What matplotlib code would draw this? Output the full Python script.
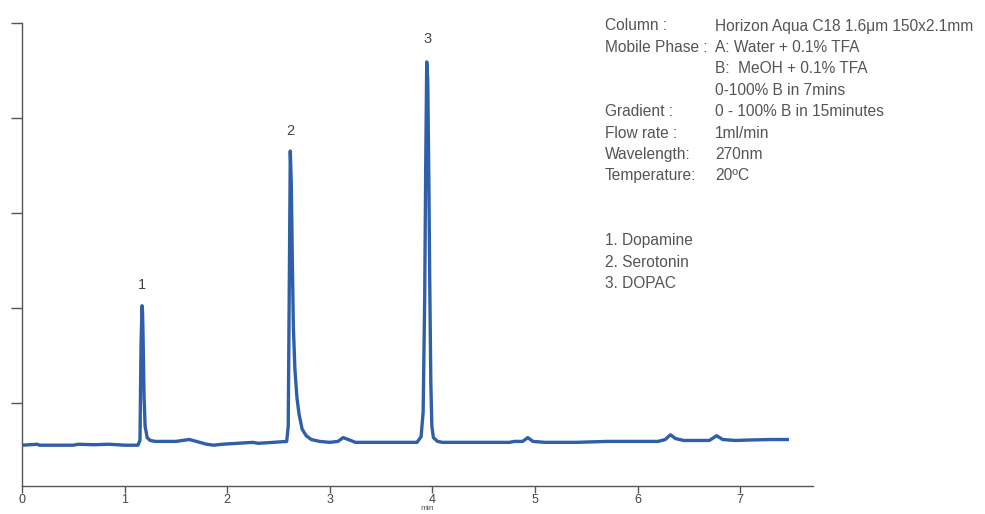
import matplotlib
matplotlib.use("Agg")
import matplotlib.pyplot as plt

# ---- data ----
time_min = [0.00, 0.15, 0.17, 0.50, 0.55, 0.70, 0.85, 1.00, 1.13, 1.15, 1.16, 1.17, 1.175,
            1.18, 1.19, 1.20, 1.22, 1.25, 1.30, 1.50, 1.63, 1.70, 1.80, 1.87, 1.95,
            2.10, 2.25, 2.30, 2.45, 2.58, 2.595, 2.605, 2.615, 2.625, 2.635, 2.645, 2.66,
            2.68, 2.70, 2.73, 2.77, 2.82, 2.90, 3.00, 3.08, 3.13, 3.18, 3.25, 3.50,
            3.85, 3.89, 3.91, 3.925, 3.935, 3.945, 3.955, 3.965, 3.975, 3.985, 3.995,
            4.01, 4.05, 4.10, 4.30, 4.75, 4.80, 4.88, 4.93, 4.98, 5.10, 5.40, 5.70,
            6.00, 6.20, 6.27, 6.32, 6.37, 6.45, 6.70, 6.77, 6.83, 6.95, 7.10, 7.30, 7.46]
signal = [-45, -44, -45, -45, -44, -44.5, -44, -45, -45, -40, 60, 102, 95,
          70, 5, -25, -37, -40, -41, -41, -39, -41, -44, -45, -44,
          -43, -42, -43, -42, -41, -25, 120, 265, 230, 150, 80, 35,
          5, -12, -28, -35, -39, -41, -42, -41, -37, -39, -42, -42,
          -42, -36, -10, 110, 250, 359, 340, 240, 120, 20, -25,
          -37, -41, -42, -42, -42, -41, -41, -37, -41, -42, -42, -41,
          -41, -41, -39, -34, -38, -40, -40, -35, -39, -40, -39.5, -39, -39]

peak_labels = ["1", "2", "3"]
peak_times = [1.17, 2.62, 3.955]
peak_label_heights = [116, 279, 376]

x_ticks = [0, 1, 2, 3, 4, 5, 6, 7]
y_ticks = [0, 100, 200, 300, 400]

cond_keys = ["Column :", "Mobile Phase :", "", "", "Gradient :", "Flow rate :",
             "Wavelength:", "Temperature:"]
cond_vals = ["Horizon Aqua C18 1.6\u03bcm 150x2.1mm", "A: Water + 0.1% TFA",
             "B:  MeOH + 0.1% TFA", "0-100% B in 7mins", "0 - 100% B in 15minutes",
             "1ml/min", "270nm", "20\u00baC"]
compounds = ["1. Dopamine", "2. Serotonin", "3. DOPAC"]

# ---- figure ----
plt.rcParams['font.family'] = ['Liberation Sans', 'DejaVu Sans']
fig = plt.figure(figsize=(9.85, 5.14), dpi=100)
W, H = 985, 514
ax = fig.add_axes([22 / W, (H - 486) / H, (813 - 22) / W, (486 - 23) / H])

line_color = "#2f5fa8"
ax.plot(time_min, signal, color=line_color, lw=2.4, solid_joinstyle="round")

ax.set_xlim(0, 7.71)
ax.set_ylim(-88, 400)
ax.set_xticks(x_ticks)
ax.set_xticklabels([str(t) for t in x_ticks])
ax.set_yticks(y_ticks)
ax.set_yticklabels([])

for s in ["top", "right"]:
    ax.spines[s].set_visible(False)
for s in ["left", "bottom"]:
    ax.spines[s].set_color("#555555")
    ax.spines[s].set_linewidth(1.0)
ax.tick_params(axis="x", direction="out", length=5, width=1, colors="#555555",
               labelsize=9, labelcolor="#444444", pad=1)
ax.tick_params(axis="y", direction="out", length=8, width=1, colors="#555555")

fig.text(427 / W, 1 - 512 / H, "min", ha="center", va="bottom",
         fontsize=6, color="#555555")

for lab, t, h in zip(peak_labels, peak_times, peak_label_heights):
    ax.text(t, h, lab, ha="center", va="bottom", fontsize=10.5, color="#444444")

txt_color = "#555555"
fs = 11.2
y0 = 26
dy = 21.4
for i, (k, v) in enumerate(zip(cond_keys, cond_vals)):
    y = 1 - (y0 + i * dy) / H
    if k:
        fig.text(605 / W, y, k, ha="left", va="center", fontsize=fs, color=txt_color)
    fig.text(715 / W, y, v, ha="left", va="center", fontsize=fs, color=txt_color)
for i, c in enumerate(compounds):
    y = 1 - (241 + i * dy) / H
    fig.text(605 / W, y, c, ha="left", va="center", fontsize=fs, color=txt_color)

fig.savefig("out.png", dpi=100)
